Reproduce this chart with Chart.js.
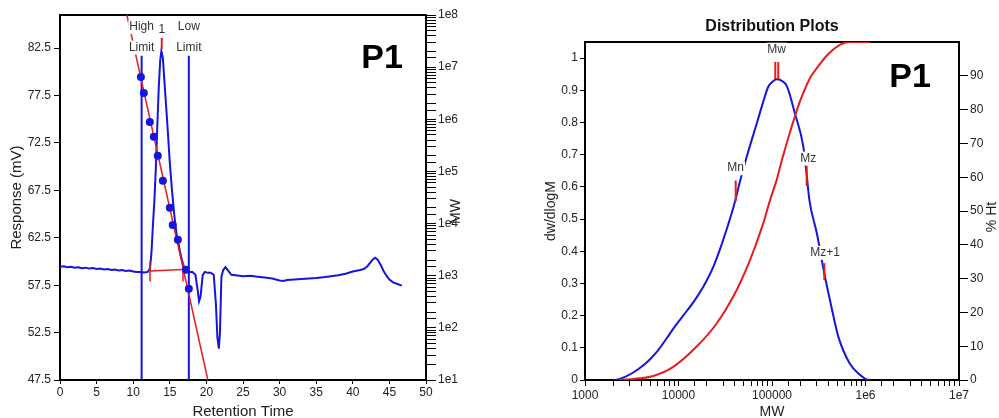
<!DOCTYPE html>
<html>
<head>
<meta charset="utf-8">
<script src="https://cdn.jsdelivr.net/npm/chart.js@4.4.1/dist/chart.umd.min.js"></script>
<style>
html, body { margin: 0; padding: 0; background: #fff; }
#wrap { position: relative; width: 999px; height: 418px; overflow: hidden; }
#left { position: absolute; left: 0; top: 0; }
#right { position: absolute; left: 500px; top: 0; }
</style>
</head>
<body>
<div id="wrap">
<canvas id="left" width="470" height="418"></canvas>
<canvas id="right" width="499" height="418"></canvas>
</div>
<script>
// ---- left panel: chromatogram + calibration ----
var traceTime = [0, 0.5, 1, 1.5, 2, 2.5, 3, 3.5, 4, 4.5, 5, 5.5, 6, 6.5, 7, 7.5, 8, 8.5, 9, 9.5, 10, 10.5, 11, 11.5, 12,
    12.3, 12.5, 12.7, 12.9, 13.1, 13.3, 13.5, 13.7, 13.85, 14.05, 14.3, 14.55, 14.75, 15.0, 15.3, 15.6, 15.9, 16.1, 16.4, 16.7,
    17.0, 17.4, 17.8, 18.1, 18.5, 18.8, 19.0, 19.2, 19.5, 19.8, 20.2, 20.6, 21.0, 21.3, 21.5, 21.7, 21.85, 22.05, 22.3, 22.6,
    23.0, 23.4, 24, 25, 26, 27, 28, 29, 30, 30.5, 31, 32, 33, 34, 35, 36, 37, 38, 39, 40, 41, 41.5, 42, 42.7, 43.05, 43.4,
    43.9, 44.2, 44.6, 45, 45.5, 46, 46.7];
var traceResp = [59.45, 59.5, 59.4, 59.45, 59.35, 59.4, 59.3, 59.35, 59.25, 59.3, 59.2, 59.25, 59.15, 59.2, 59.1, 59.15, 59.05, 59.1, 59.0, 59.05, 58.95, 58.9, 58.9, 58.85, 58.9,
    59.3, 61.0, 63.9, 66.5, 70.0, 74.5, 78.5, 81.3, 82.2, 81.5, 78.6, 75.8, 73.5, 70.4, 67.5, 65.0, 63.0, 62.3, 61.0, 60.0,
    59.3, 59.0, 58.9, 58.9, 58.6, 57.0, 55.8, 56.3, 58.6, 58.9, 58.8, 58.8, 58.6, 55.5, 52.0, 50.8, 52.5, 58.4, 59.1, 59.4,
    59.0, 58.6, 58.55, 58.45, 58.5, 58.4, 58.3, 58.2, 58.0, 57.95, 58.05, 58.1, 58.15, 58.2, 58.25, 58.35, 58.45, 58.55, 58.7, 58.95, 59.1, 59.2, 59.5, 60.2, 60.4, 60.2,
    59.5, 59.0, 58.5, 58.1, 57.8, 57.65, 57.45];

var calTime = [11.05, 11.45, 12.27, 12.82, 13.36, 14.05, 15.0, 15.4, 16.1, 17.2, 17.6];
var calMW = [6.5e6, 3.2e6, 8.9e5, 4.6e5, 2.0e5, 6.6e4, 2.0e4, 9.4e3, 4.9e3, 1.3e3, 5.6e2];
var fitTime = [9.14, 20.2];
var fitMW = [1e8, 10];

var limitTime = [11.15, 17.6];
var limitTop = 81.7;
var baseTime = [12.3, 16.8];
var baseResp = [59.0, 59.15];
var baseTickLo = 57.9, baseTickHi = 60.0;
var peakTime = 13.9, peakLo = 82.4, peakHi = 83.6;

var respTicks = [47.5, 52.5, 57.5, 62.5, 67.5, 72.5, 77.5, 82.5];
var mwTickLabels = ['1e1', '1e2', '1e3', '1e4', '1e5', '1e6', '1e7', '1e8'];

// ---- right panel: distribution ----
var mwDist = [2089, 2399, 2786, 3311, 3890, 4786, 5888, 7413, 9120, 11220, 14450, 18410, 23440, 28840, 35480, 39810,
    45710, 53700, 69180, 81280, 91200, 100000, 112200, 125900, 144500, 175800, 216300, 234400, 251200, 302000, 363100,
    416900, 512900, 676100, 871000, 1023000, 1122000];
var dwdlogM = [0, 0.004, 0.012, 0.024, 0.038, 0.06, 0.088, 0.128, 0.166, 0.2, 0.242, 0.29, 0.35, 0.42, 0.5, 0.55,
    0.62, 0.694, 0.80, 0.868, 0.911, 0.925, 0.934, 0.93, 0.912, 0.828, 0.725, 0.64, 0.559, 0.455, 0.33,
    0.248, 0.134, 0.052, 0.016, 0.002, 0];
var mwCum = [2344, 3873, 5370, 8790, 15630, 25700, 38550, 58210, 80720, 95500, 112200, 125900, 154900, 175800, 199500,
    257000, 316200, 380200, 537000, 660700, 1122000];
var pctHt = [0, 0.5, 1.2, 3.9, 9.9, 16.8, 24.7, 35.5, 46.4, 53.3, 59.2, 64.5, 73.1, 78, 82.5,
    89.5, 93, 95.8, 99.2, 100, 100];

var markLineMW = [40900, 108400, 116700, 235000, 363000];
var markLineLo = [0.555, 0.935, 0.935, 0.602, 0.31];
var markLineHi = [0.62, 0.988, 0.988, 0.665, 0.363];
var noteText = ['Mn', 'Mw', 'Mz', 'Mz+1'];
var noteMW = [40900, 112000, 244000, 369000];
var noteY = [0.658, 1.026, 0.688, 0.395];

var logTickLabels = ['1000', '10000', '100000', '1e6', '1e7'];
var dwTicks = [0, 0.1, 0.2, 0.3, 0.4, 0.5, 0.6, 0.7, 0.8, 0.9, 1];
var pctTicks = [0, 10, 20, 30, 40, 50, 60, 70, 80, 90];

var BLUE = '#1515e0';
var RED = '#e81c1c';
var FONT = "'Liberation Sans', Arial, sans-serif";
Chart.defaults.font.family = FONT;
Chart.defaults.color = '#222';

function pairs(xs, ys) {
    return xs.map(function(x, i) { return {x: x, y: ys[i]}; });
}
function seg(x, lo, hi) {
    return [{x: x, y: lo}, {x: x, y: hi}];
}
function decade(v) {
    var e = Math.round(Math.log10(v));
    return Math.abs(v - Math.pow(10, e)) < 1e-6 * v ? e : null;
}
function setTicks(list) {
    return function(s) { s.ticks = list.map(function(v) { return {value: v}; }); };
}
function fitW(w) { return function(s) { s.width = w; }; }
function fitH(h) { return function(s) { s.height = h; }; }

var axisBorder = {display: true, color: '#000', width: 2};

var panelDecor = {
    id: 'panelDecor',
    beforeDatasetsDraw: function(chart) {
        var ctx = chart.ctx, a = chart.chartArea;
        ctx.save();
        ctx.strokeStyle = '#000';
        ctx.lineWidth = 2;
        ctx.beginPath();
        ctx.moveTo(a.left - 1, a.top);
        ctx.lineTo(a.right + 1, a.top);
        ctx.stroke();
        ctx.restore();
    },
    afterDatasetsDraw: function(chart, args, o) {
        var ctx = chart.ctx, a = chart.chartArea;
        var xs = chart.scales.x, ys = chart.scales.y;
        ctx.save();
        ctx.font = '12px ' + FONT;
        ctx.textAlign = 'center';
        ctx.textBaseline = 'middle';
        o.notes.forEach(function(n) {
            var px = xs.getPixelForValue(n.x), py = ys.getPixelForValue(n.y);
            var w = ctx.measureText(n.text).width;
            ctx.fillStyle = '#fff';
            ctx.fillRect(px - w / 2 - 1, py - 7, w + 2, 14);
            ctx.fillStyle = '#333';
            ctx.fillText(n.text, px, py);
        });
        ctx.fillStyle = '#000';
        ctx.font = 'bold 34px ' + FONT;
        ctx.fillText(o.tag, a.right - o.tagRight, a.top + o.tagDown);
        if (o.title) {
            ctx.font = 'bold 16px ' + FONT;
            ctx.fillStyle = '#111';
            ctx.fillText(o.title, (a.left + a.right) / 2, 27);
        }
        var r = chart.scales.y2;
        ctx.font = '14px ' + FONT;
        ctx.fillStyle = '#222';
        ctx.translate(r.right - o.rtInset, (a.top + a.bottom) / 2 + o.rtShift);
        ctx.rotate(-Math.PI / 2);
        ctx.fillText(o.rightTitle, 0, 0);
        ctx.restore();
    }
};

// ---------- left chart ----------
var leftSets = [
    {data: pairs(traceTime, traceResp), yAxisID: 'y', borderColor: BLUE, borderWidth: 2, pointRadius: 0, order: 6}
];
limitTime.forEach(function(t) {
    leftSets.push({data: seg(t, 47.5, limitTop), yAxisID: 'y', borderColor: BLUE, borderWidth: 2, pointRadius: 0, order: 5});
});
leftSets.push({data: pairs(fitTime, fitMW), yAxisID: 'y2', borderColor: RED, borderWidth: 1.5, pointRadius: 0, order: 4});
leftSets.push({data: pairs(baseTime, baseResp), yAxisID: 'y', borderColor: RED, borderWidth: 1.5, pointRadius: 0, order: 3});
baseTime.forEach(function(t) {
    leftSets.push({data: seg(t, baseTickLo, baseTickHi), yAxisID: 'y', borderColor: RED, borderWidth: 1.5, pointRadius: 0, order: 3});
});
leftSets.push({data: seg(peakTime, peakLo, peakHi), yAxisID: 'y', borderColor: RED, borderWidth: 2, pointRadius: 0, order: 2});
leftSets.push({data: pairs(calTime, calMW), yAxisID: 'y2', showLine: false, pointRadius: 4, pointBorderWidth: 0,
    pointBackgroundColor: BLUE, borderColor: BLUE, order: 1});

new Chart(document.getElementById('left').getContext('2d'), {
    type: 'line',
    data: {datasets: leftSets},
    options: {
        responsive: false,
        animation: false,
        layout: {padding: {top: 15, left: 0, right: 0, bottom: 0}},
        plugins: {
            legend: {display: false},
            tooltip: {enabled: false},
            panelDecor: {
                notes: [
                    {x: limitTime[0], y: 84.73, text: 'High'},
                    {x: limitTime[0], y: 82.57, text: 'Limit'},
                    {x: peakTime, y: 84.5, text: '1'},
                    {x: limitTime[1], y: 84.73, text: 'Low'},
                    {x: limitTime[1], y: 82.57, text: 'Limit'}
                ],
                tag: 'P1', tagRight: 44, tagDown: 44,
                rightTitle: 'MW', rtInset: 14, rtShift: 14
            }
        },
        scales: {
            x: {
                type: 'linear', min: 0, max: 50,
                afterFit: fitH(38),
                border: axisBorder,
                grid: {drawOnChartArea: false, color: '#000', tickLength: 4},
                ticks: {stepSize: 5, padding: 1, font: {size: 12}, maxRotation: 0},
                title: {display: true, text: 'Retention Time', font: {size: 15}, padding: {top: 0, bottom: -3}}
            },
            y: {
                type: 'linear', position: 'left', min: 47.5, max: 86,
                afterFit: fitW(60),
                afterBuildTicks: setTicks(respTicks),
                border: axisBorder,
                grid: {drawOnChartArea: false, color: '#000', tickLength: 6},
                ticks: {padding: 3, font: {size: 12}, callback: function(v) { return v.toFixed(1); }},
                title: {display: true, text: 'Response (mV)', font: {size: 15}, padding: {top: 8, bottom: 0}}
            },
            y2: {
                type: 'logarithmic', position: 'right', min: 10, max: 1e8,
                afterFit: fitW(44),
                border: axisBorder,
                grid: {drawOnChartArea: false, color: '#000', tickLength: 10},
                ticks: {
                    autoSkip: false, padding: 2, font: {size: 12},
                    callback: function(v) { var e = decade(v); return e === null ? '' : mwTickLabels[e - 1]; }
                }
            }
        }
    },
    plugins: [panelDecor]
});

// ---------- right chart ----------
var rightSets = [
    {data: pairs(mwDist, dwdlogM), yAxisID: 'y', borderColor: BLUE, borderWidth: 2, pointRadius: 0,
        cubicInterpolationMode: 'monotone', order: 3},
    {data: pairs(mwCum, pctHt), yAxisID: 'y2', borderColor: RED, borderWidth: 2, pointRadius: 0,
        cubicInterpolationMode: 'monotone', order: 2}
];
markLineMW.forEach(function(m, i) {
    rightSets.push({data: seg(m, markLineLo[i], markLineHi[i]), yAxisID: 'y', borderColor: RED, borderWidth: 2,
        pointRadius: 0, order: 1});
});

new Chart(document.getElementById('right').getContext('2d'), {
    type: 'line',
    data: {datasets: rightSets},
    options: {
        responsive: false,
        animation: false,
        layout: {padding: {top: 42, left: 0, right: 0, bottom: 0}},
        plugins: {
            legend: {display: false},
            tooltip: {enabled: false},
            panelDecor: {
                notes: noteText.map(function(t, i) { return {x: noteMW[i], y: noteY[i], text: t}; }),
                tag: 'P1', tagRight: 49, tagDown: 36,
                title: 'Distribution Plots',
                rightTitle: '% Ht', rtInset: 7, rtShift: 6
            }
        },
        scales: {
            x: {
                type: 'logarithmic', min: 1000, max: 1e7,
                afterFit: fitH(38),
                border: axisBorder,
                grid: {drawOnChartArea: false, color: '#000', tickLength: 6},
                ticks: {
                    autoSkip: false, padding: 2, maxRotation: 0, font: {size: 12},
                    callback: function(v) { var e = decade(v); return e === null ? '' : logTickLabels[e - 3]; }
                },
                title: {display: true, text: 'MW', font: {size: 14}, padding: {top: 0, bottom: -3}}
            },
            y: {
                type: 'linear', position: 'left', min: 0, max: 1.05,
                afterFit: fitW(85),
                afterBuildTicks: setTicks(dwTicks),
                border: axisBorder,
                grid: {drawOnChartArea: false, color: '#000', tickLength: 5},
                ticks: {padding: 2, font: {size: 12}, callback: function(v) { return String(Math.round(v * 10) / 10); }},
                title: {display: true, text: 'dw/dlogM', font: {size: 14}, padding: {top: 43, bottom: 0}}
            },
            y2: {
                type: 'linear', position: 'right', min: 0, max: 100,
                afterFit: fitW(40),
                afterBuildTicks: setTicks(pctTicks),
                border: axisBorder,
                grid: {drawOnChartArea: false, color: '#000', tickLength: 9},
                ticks: {padding: 2, font: {size: 12}}
            }
        }
    },
    plugins: [panelDecor]
});
</script>
</body>
</html>
